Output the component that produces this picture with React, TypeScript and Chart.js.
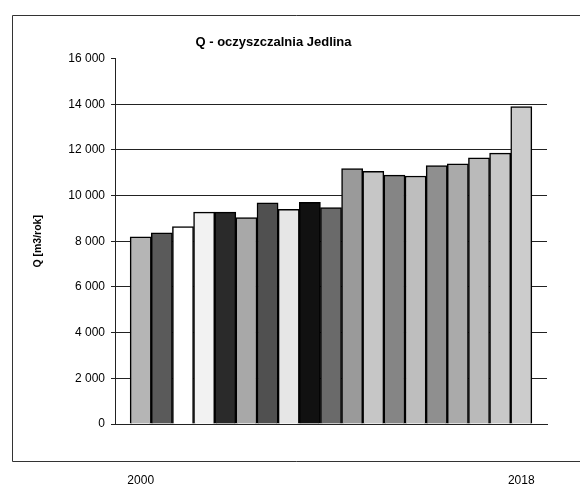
import { useEffect, useRef } from "react";
import { Chart, registerables } from "chart.js";

Chart.register(...registerables);

const years = [2000, 2001, 2002, 2003, 2004, 2005, 2006, 2007, 2008, 2009, 2010, 2011, 2012, 2013, 2014, 2015, 2016, 2017, 2018];
const flowValues = [8200, 8370, 8650, 9280, 9280, 9040, 9680, 9400, 9710, 9480, 11180, 11060, 10900, 10860, 11320, 11390, 11650, 11860, 13900];
const yTickValues = [0, 2000, 4000, 6000, 8000, 10000, 12000, 14000, 16000];
const xTickYears = [2000, 2018];
const barColors = [
  "#b5b5b5", "#5a5a5a", "#ffffff", "#f2f2f2", "#2a2a2a", "#a8a8a8", "#505050", "#e6e6e6", "#111111", "#6a6a6a",
  "#9a9a9a", "#c6c6c6", "#858585", "#bebebe", "#8f8f8f", "#aaaaaa", "#bababa", "#c8c8c8", "#cccccc",
];

const FONT = 'Arial, "Liberation Sans", sans-serif';

const fmt = (v: number) => String(v).replace(/\B(?=(\d{3})+(?!\d))/g, " ");

const framePlugin = {
  id: "frame",
  beforeDraw(chart: any) {
    const { ctx } = chart;
    ctx.save();
    ctx.strokeStyle = "#333";
    ctx.lineWidth = 1;
    ctx.beginPath();
    ctx.moveTo(chart.width + 2, 15.5);
    ctx.lineTo(12.5, 15.5);
    ctx.lineTo(12.5, 461.5);
    ctx.lineTo(chart.width + 2, 461.5);
    ctx.stroke();
    ctx.restore();
  },
};

export default function App() {
  const ref = useRef<HTMLCanvasElement | null>(null);

  useEffect(() => {
    if (!ref.current) return;
    Chart.defaults.font.family = FONT;
    Chart.defaults.color = "#000";
    const chart = new Chart(ref.current, {
      type: "bar",
      data: {
        datasets: [
          {
            data: years.map((y, i) => ({ x: y, y: flowValues[i] })),
            backgroundColor: barColors,
            borderColor: "#000",
            borderWidth: 1.5,
            categoryPercentage: 1,
            barPercentage: 1,
          },
        ],
      },
      options: {
        animation: false,
        responsive: true,
        maintainAspectRatio: false,
        layout: { padding: { left: 0, right: 33, top: 0, bottom: 6 } },
        plugins: {
          legend: { display: false },
          tooltip: { enabled: false },
          title: {
            display: true,
            text: "Q - oczyszczalnia Jedlina",
            color: "#000",
            font: { family: FONT, size: 13, weight: "bold" },
            padding: { top: 35, bottom: 8 },
          },
        },
        scales: {
          x: {
            type: "linear",
            min: 1998.784,
            max: 2019.216,
            offset: false,
            grid: { display: false, drawTicks: false, tickLength: 0 },
            border: { display: true, color: "#222", width: 1 },
            afterBuildTicks: (scale: any) => {
              scale.ticks = xTickYears.map((v) => ({ value: v }));
            },
            afterFit: (scale: any) => {
              scale.height = 61;
              scale.paddingLeft = 0;
              scale.paddingRight = 0;
            },
            ticks: {
              autoSkip: false,
              maxRotation: 0,
              padding: 49,
              font: { family: FONT, size: 12 },
              color: "#000",
              callback: (v: any) => String(v),
            },
          },
          y: {
            min: 0,
            max: 16000,
            afterBuildTicks: (scale: any) => {
              scale.ticks = yTickValues.map((v) => ({ value: v }));
            },
            afterFit: (scale: any) => {
              scale.width = 115;
            },
            grid: {
              color: (ctx: any) => (ctx.tick && ctx.tick.value === 16000 ? "rgba(0,0,0,0)" : "#222"),
              tickColor: "#222",
              tickLength: 4,
              lineWidth: 1,
            },
            border: { display: true, color: "#222", width: 1 },
            ticks: {
              padding: 6,
              font: { family: FONT, size: 12 },
              color: "#000",
              callback: (v: any) => fmt(Number(v)),
            },
            title: {
              display: true,
              text: "Q [m3/rok]",
              color: "#000",
              font: { family: FONT, size: 10.5, weight: "bold" },
              padding: { top: 32, bottom: 0 },
            },
          },
        },
      },
      plugins: [framePlugin],
    });
    return () => chart.destroy();
  }, []);

  return (
    <div style={{ position: "fixed", left: 0, top: 0, width: 580, height: 491, background: "#fff" }}>
      <canvas ref={ref} />
    </div>
  );
}
